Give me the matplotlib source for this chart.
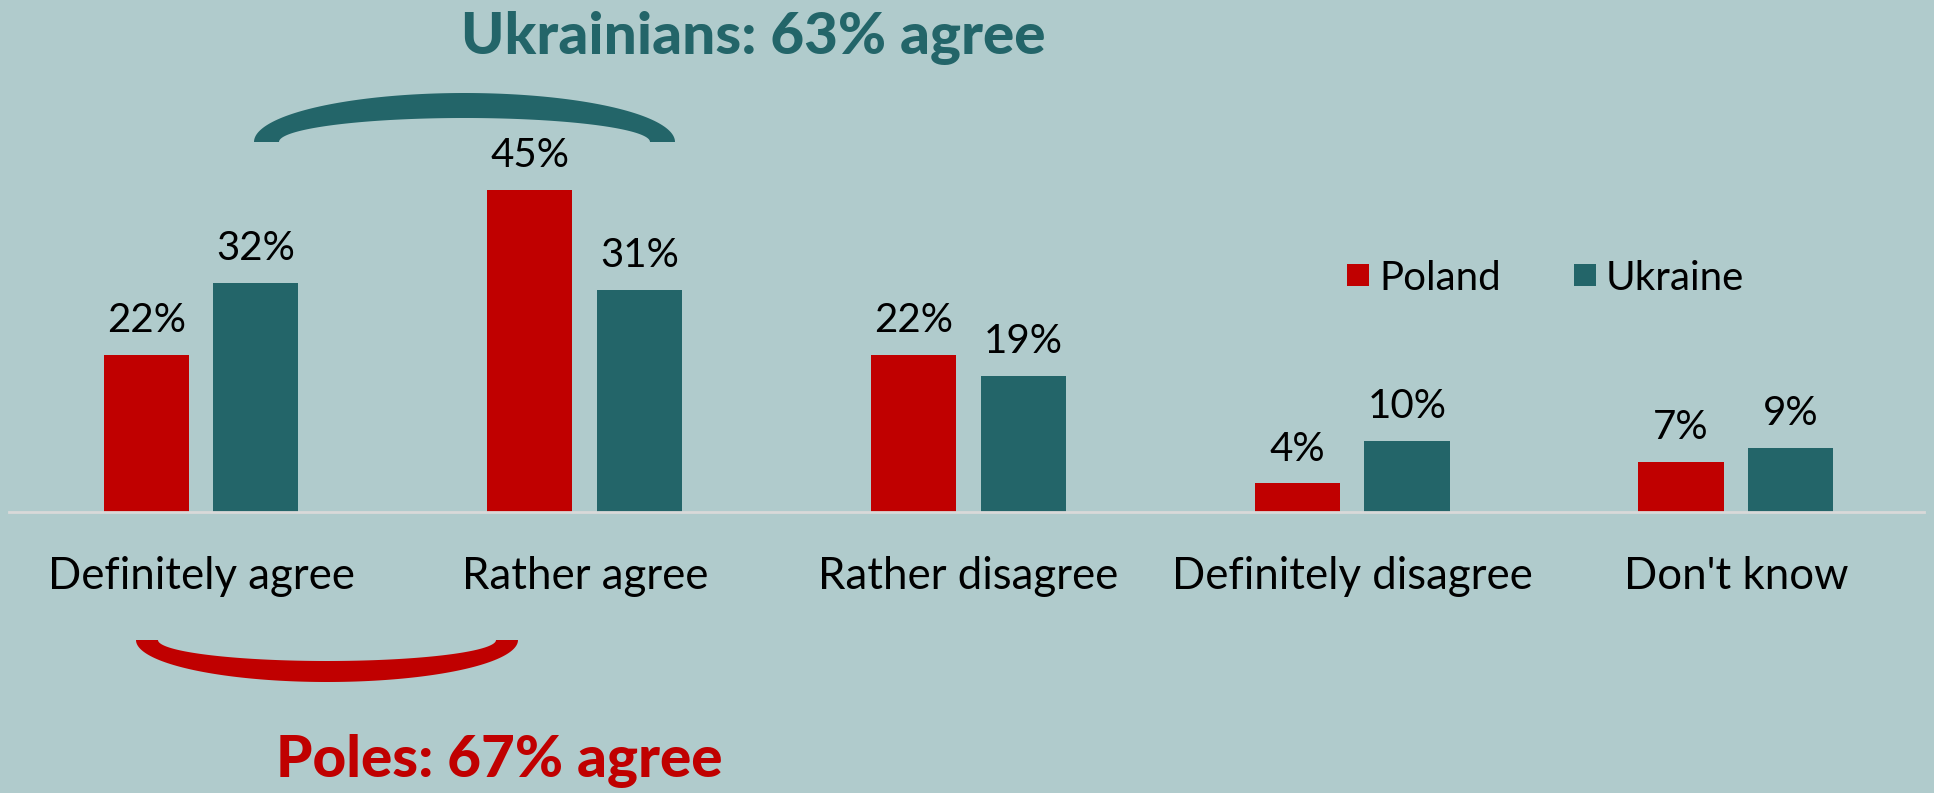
import numpy as np
import matplotlib.pyplot as plt
from matplotlib.patches import Polygon, Rectangle

categories = ["Definitely agree", "Rather agree", "Rather disagree",
              "Definitely disagree", "Don't know"]
poland = [22, 45, 22, 4, 7]
ukraine = [32, 31, 19, 10, 9]
series_names = ["Poland", "Ukraine"]

RED = "#C00000"
TEAL = "#236569"
BG = "#B0CBCC"
FONT = "Lato"

W, H = 1934, 793
fig = plt.figure(figsize=(W / 100, H / 100), dpi=100, facecolor=BG)

# data axes spanning the whole figure; limits chosen so that
# group spacing ~384 px and 1% ~7.2 px with the baseline 281 px up
ax = fig.add_axes([0, 0, 1, 1])
ax.set_facecolor(BG)
ax.set_xlim(-201 / 383.7, (W - 201) / 383.7)
ax.set_ylim(-281 / 7.15, (H - 281) / 7.15)
ax.axis("off")

x = np.arange(len(categories))
bw = 0.222
off = 0.143
ax.bar(x - off, poland, bw, color=RED, zorder=2)
ax.bar(x + off, ukraine, bw, color=TEAL, zorder=2)
ax.plot([-0.5, 4.49], [0, 0], color="#d9d9d9", lw=2, zorder=3)

for i in range(len(categories)):
    ax.text(x[i] - off, poland[i] + 3.2, f"{poland[i]}%", ha="center",
            va="baseline", fontsize=29, family=FONT, color="black")
    ax.text(x[i] + off, ukraine[i] + 3.2, f"{ukraine[i]}%", ha="center",
            va="baseline", fontsize=29, family=FONT, color="black")
    ax.text(x[i], -10.7, categories[i], ha="center", va="baseline",
            fontsize=31.5, family=FONT, color="black")

# overlay in pixel coordinates for legend, braces and headlines
ov = fig.add_axes([0, 0, 1, 1])
ov.set_xlim(0, W)
ov.set_ylim(H, 0)
ov.axis("off")
ov.patch.set_alpha(0)


def arc(cx, base, rx_out, ry_out, rx_in, ry_in, up, color):
    t = np.linspace(0, np.pi, 120)
    s = -1 if up else 1
    outer = np.column_stack([cx + rx_out * np.cos(t), base + s * ry_out * np.sin(t)])
    inner = np.column_stack([cx + rx_in * np.cos(t[::-1]), base + s * ry_in * np.sin(t[::-1])])
    ov.add_patch(Polygon(np.vstack([outer, inner]), closed=True,
                         facecolor=color, edgecolor="none"))


arc(464.5, 142, 210.5, 49, 185.5, 24, True, TEAL)
arc(327, 640, 191, 42, 169, 21, False, RED)

ov.text(753, 54, "Ukrainians: 63% agree", ha="center", va="baseline",
        fontsize=42, fontweight="black", family=FONT, color=TEAL)
ov.text(499, 777, "Poles: 67% agree", ha="center", va="baseline",
        fontsize=42, fontweight="black", family=FONT, color=RED)

# legend
for lx, name, col in [(1347, series_names[0], RED), (1574, series_names[1], TEAL)]:
    ov.add_patch(Rectangle((lx, 264), 22, 22, facecolor=col, edgecolor="none"))
    ov.text(lx + 32, 290, name, ha="left", va="baseline", fontsize=29,
            family=FONT, color="black")

fig.savefig("out.png", dpi=100, facecolor=BG)
